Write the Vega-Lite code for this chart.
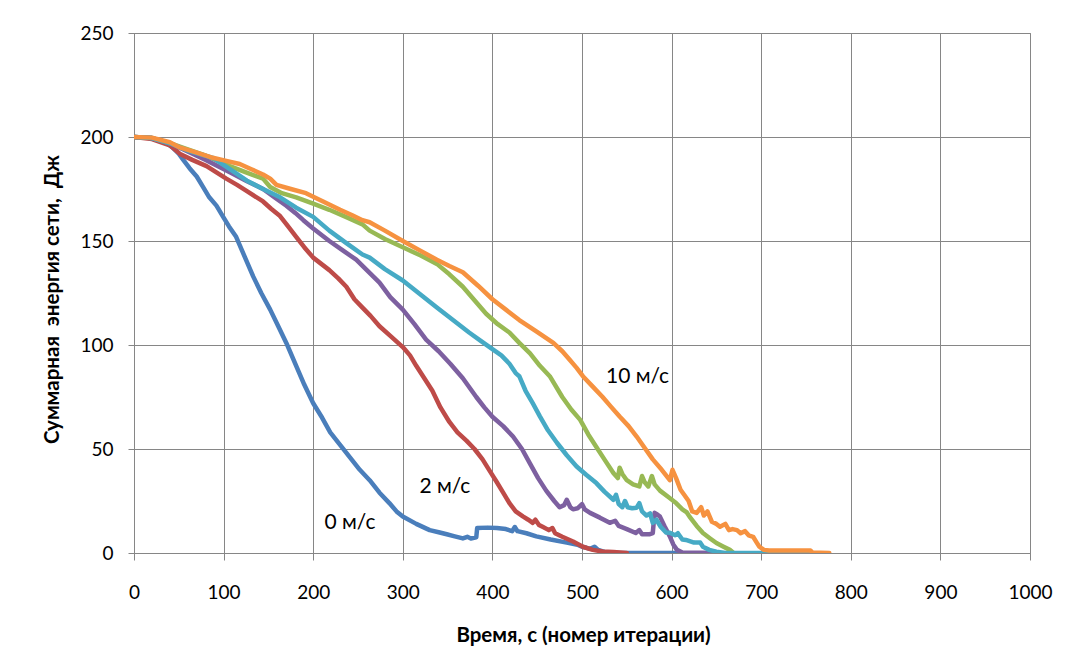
{
  "$schema": "https://vega.github.io/schema/vega-lite/v6.json",
  "autosize": {"type": "none"},
  "width": 896,
  "height": 520,
  "padding": {"left": 134, "top": 33, "right": 43, "bottom": 115},
  "background": "white",
  "config": {
    "font": "Lato",
    "view": {"stroke": "#868686", "strokeWidth": 1},
    "axis": {
      "gridColor": "#868686",
      "gridWidth": 1,
      "gridOpacity": 1,
      "domainColor": "#868686",
      "tickColor": "#868686",
      "labelColor": "#000000",
      "labelFont": "Lato",
      "labelFontSize": 19,
      "titleColor": "#000000",
      "titleFont": "Lato",
      "titleFontWeight": "bold",
      "titleFontSize": 20.5
    }
  },
  "datasets": {
    "curves": [
      {"t": 0, "e": 200, "s": "0 м/с"}, {"t": 20, "e": 199.5, "s": "0 м/с"}, {"t": 35, "e": 197.5, "s": "0 м/с"}, {"t": 43, "e": 195, "s": "0 м/с"}, {"t": 50, "e": 192, "s": "0 м/с"}, {"t": 55, "e": 189, "s": "0 м/с"}, {"t": 62, "e": 185, "s": "0 м/с"}, {"t": 70, "e": 181, "s": "0 м/с"}, {"t": 77, "e": 176, "s": "0 м/с"}, {"t": 84, "e": 171, "s": "0 м/с"}, {"t": 92, "e": 167, "s": "0 м/с"}, {"t": 99, "e": 162, "s": "0 м/с"}, {"t": 106, "e": 157, "s": "0 м/с"}, {"t": 114, "e": 152, "s": "0 м/с"}, {"t": 123, "e": 143, "s": "0 м/с"}, {"t": 133, "e": 133, "s": "0 м/с"}, {"t": 142, "e": 125, "s": "0 м/с"}, {"t": 152, "e": 117, "s": "0 м/с"}, {"t": 161, "e": 109, "s": "0 м/с"}, {"t": 170, "e": 101, "s": "0 м/с"}, {"t": 181, "e": 90, "s": "0 м/с"}, {"t": 190, "e": 81, "s": "0 м/с"}, {"t": 200, "e": 72, "s": "0 м/с"}, {"t": 210, "e": 65, "s": "0 м/с"}, {"t": 219, "e": 58, "s": "0 м/с"}, {"t": 230, "e": 52, "s": "0 м/с"}, {"t": 241, "e": 46, "s": "0 м/с"}, {"t": 252, "e": 40, "s": "0 м/с"}, {"t": 263, "e": 35, "s": "0 м/с"}, {"t": 274, "e": 29, "s": "0 м/с"}, {"t": 285, "e": 24, "s": "0 м/с"}, {"t": 293, "e": 20, "s": "0 м/с"}, {"t": 300, "e": 17.5, "s": "0 м/с"}, {"t": 315, "e": 14, "s": "0 м/с"}, {"t": 330, "e": 11, "s": "0 м/с"}, {"t": 340, "e": 10, "s": "0 м/с"}, {"t": 349, "e": 9, "s": "0 м/с"}, {"t": 358, "e": 8, "s": "0 м/с"}, {"t": 367, "e": 7, "s": "0 м/с"}, {"t": 372, "e": 7.8, "s": "0 м/с"}, {"t": 376, "e": 7, "s": "0 м/с"}, {"t": 382, "e": 7.5, "s": "0 м/с"}, {"t": 383, "e": 12, "s": "0 м/с"}, {"t": 395, "e": 12.2, "s": "0 м/с"}, {"t": 405, "e": 12, "s": "0 м/с"}, {"t": 415, "e": 11.5, "s": "0 м/с"}, {"t": 422, "e": 10.5, "s": "0 м/с"}, {"t": 425, "e": 12.5, "s": "0 м/с"}, {"t": 428, "e": 10.5, "s": "0 м/с"}, {"t": 438, "e": 9.5, "s": "0 м/с"}, {"t": 449, "e": 8, "s": "0 м/с"}, {"t": 465, "e": 6.5, "s": "0 м/с"}, {"t": 483, "e": 5, "s": "0 м/с"}, {"t": 495, "e": 4, "s": "0 м/с"}, {"t": 500, "e": 3, "s": "0 м/с"}, {"t": 505, "e": 2.5, "s": "0 м/с"}, {"t": 509, "e": 2, "s": "0 м/с"}, {"t": 514, "e": 3, "s": "0 м/с"}, {"t": 518, "e": 1.5, "s": "0 м/с"}, {"t": 525, "e": 0.5, "s": "0 м/с"}, {"t": 535, "e": 0, "s": "0 м/с"}, {"t": 606, "e": 0, "s": "0 м/с"},

      {"t": 0, "e": 200, "s": "2 м/с"}, {"t": 20, "e": 199, "s": "2 м/с"}, {"t": 40, "e": 196, "s": "2 м/с"}, {"t": 51, "e": 192, "s": "2 м/с"}, {"t": 65, "e": 189, "s": "2 м/с"}, {"t": 81, "e": 186, "s": "2 м/с"}, {"t": 92, "e": 183, "s": "2 м/с"}, {"t": 103, "e": 180, "s": "2 м/с"}, {"t": 115, "e": 177, "s": "2 м/с"}, {"t": 126, "e": 174, "s": "2 м/с"}, {"t": 135, "e": 171.5, "s": "2 м/с"}, {"t": 144, "e": 169, "s": "2 м/с"}, {"t": 153, "e": 165.5, "s": "2 м/с"}, {"t": 163, "e": 162, "s": "2 м/с"}, {"t": 172, "e": 157, "s": "2 м/с"}, {"t": 181, "e": 152, "s": "2 м/с"}, {"t": 190, "e": 147, "s": "2 м/с"}, {"t": 200, "e": 142, "s": "2 м/с"}, {"t": 209, "e": 139, "s": "2 м/с"}, {"t": 218, "e": 136, "s": "2 м/с"}, {"t": 228, "e": 132, "s": "2 м/с"}, {"t": 237, "e": 128, "s": "2 м/с"}, {"t": 246, "e": 122, "s": "2 м/с"}, {"t": 255, "e": 118, "s": "2 м/с"}, {"t": 264, "e": 114, "s": "2 м/с"}, {"t": 274, "e": 109, "s": "2 м/с"}, {"t": 287, "e": 104, "s": "2 м/с"}, {"t": 300, "e": 99, "s": "2 м/с"}, {"t": 308, "e": 95, "s": "2 м/с"}, {"t": 315, "e": 90, "s": "2 м/с"}, {"t": 324, "e": 84, "s": "2 м/с"}, {"t": 333, "e": 78, "s": "2 м/с"}, {"t": 342, "e": 70, "s": "2 м/с"}, {"t": 352, "e": 63, "s": "2 м/с"}, {"t": 361, "e": 58, "s": "2 м/с"}, {"t": 371, "e": 54, "s": "2 м/с"}, {"t": 380, "e": 50, "s": "2 м/с"}, {"t": 389, "e": 45, "s": "2 м/с"}, {"t": 397, "e": 39.5, "s": "2 м/с"}, {"t": 405, "e": 34, "s": "2 м/с"}, {"t": 412, "e": 29, "s": "2 м/с"}, {"t": 419, "e": 24, "s": "2 м/с"}, {"t": 426, "e": 20, "s": "2 м/с"}, {"t": 434, "e": 17.6, "s": "2 м/с"}, {"t": 440, "e": 16, "s": "2 м/с"}, {"t": 445, "e": 14.5, "s": "2 м/с"}, {"t": 448, "e": 16, "s": "2 м/с"}, {"t": 452, "e": 13.5, "s": "2 м/с"}, {"t": 456, "e": 12.6, "s": "2 м/с"}, {"t": 463, "e": 11, "s": "2 м/с"}, {"t": 467, "e": 12, "s": "2 м/с"}, {"t": 470, "e": 9.5, "s": "2 м/с"}, {"t": 478, "e": 7.8, "s": "2 м/с"}, {"t": 490, "e": 5.5, "s": "2 м/с"}, {"t": 501, "e": 3, "s": "2 м/с"}, {"t": 512, "e": 1.5, "s": "2 м/с"}, {"t": 523, "e": 0.7, "s": "2 м/с"}, {"t": 535, "e": 0.5, "s": "2 м/с"}, {"t": 550, "e": 0, "s": "2 м/с"},

      {"t": 0, "e": 200, "s": "8 м/с"}, {"t": 20, "e": 199.5, "s": "8 м/с"}, {"t": 40, "e": 197, "s": "8 м/с"}, {"t": 60, "e": 194, "s": "8 м/с"}, {"t": 80, "e": 191, "s": "8 м/с"}, {"t": 107, "e": 186, "s": "8 м/с"}, {"t": 125, "e": 183, "s": "8 м/с"}, {"t": 144, "e": 180, "s": "8 м/с"}, {"t": 152, "e": 176, "s": "8 м/с"}, {"t": 165, "e": 173, "s": "8 м/с"}, {"t": 181, "e": 171, "s": "8 м/с"}, {"t": 200, "e": 168, "s": "8 м/с"}, {"t": 218, "e": 165, "s": "8 м/с"}, {"t": 237, "e": 161.5, "s": "8 м/с"}, {"t": 255, "e": 158, "s": "8 м/с"}, {"t": 263, "e": 155, "s": "8 м/с"}, {"t": 280, "e": 151, "s": "8 м/с"}, {"t": 300, "e": 147, "s": "8 м/с"}, {"t": 320, "e": 143, "s": "8 м/с"}, {"t": 338, "e": 139, "s": "8 м/с"}, {"t": 352, "e": 134, "s": "8 м/с"}, {"t": 367, "e": 128, "s": "8 м/с"}, {"t": 380, "e": 121.5, "s": "8 м/с"}, {"t": 393, "e": 115, "s": "8 м/с"}, {"t": 406, "e": 110, "s": "8 м/с"}, {"t": 419, "e": 106, "s": "8 м/с"}, {"t": 430, "e": 101, "s": "8 м/с"}, {"t": 442, "e": 96, "s": "8 м/с"}, {"t": 453, "e": 90, "s": "8 м/с"}, {"t": 464, "e": 85, "s": "8 м/с"}, {"t": 478, "e": 75, "s": "8 м/с"}, {"t": 488, "e": 69, "s": "8 м/с"}, {"t": 498, "e": 64, "s": "8 м/с"}, {"t": 507, "e": 57, "s": "8 м/с"}, {"t": 516, "e": 51, "s": "8 м/с"}, {"t": 525, "e": 45, "s": "8 м/с"}, {"t": 535, "e": 38.5, "s": "8 м/с"}, {"t": 540, "e": 36, "s": "8 м/с"}, {"t": 542, "e": 41, "s": "8 м/с"}, {"t": 545, "e": 38, "s": "8 м/с"}, {"t": 550, "e": 35, "s": "8 м/с"}, {"t": 557, "e": 33, "s": "8 м/с"}, {"t": 564, "e": 32, "s": "8 м/с"}, {"t": 567, "e": 37, "s": "8 м/с"}, {"t": 570, "e": 34, "s": "8 м/с"}, {"t": 574, "e": 32, "s": "8 м/с"}, {"t": 578, "e": 37, "s": "8 м/с"}, {"t": 581, "e": 33, "s": "8 м/с"}, {"t": 587, "e": 30, "s": "8 м/с"}, {"t": 596, "e": 27, "s": "8 м/с"}, {"t": 605, "e": 24, "s": "8 м/с"}, {"t": 612, "e": 21, "s": "8 м/с"}, {"t": 617, "e": 19.5, "s": "8 м/с"}, {"t": 620, "e": 17.5, "s": "8 м/с"}, {"t": 628, "e": 13, "s": "8 м/с"}, {"t": 635, "e": 9.6, "s": "8 м/с"}, {"t": 643, "e": 7, "s": "8 м/с"}, {"t": 650, "e": 4.8, "s": "8 м/с"}, {"t": 658, "e": 3, "s": "8 м/с"}, {"t": 665, "e": 1.5, "s": "8 м/с"}, {"t": 668, "e": 0.5, "s": "8 м/с"},

      {"t": 0, "e": 200, "s": "4 м/с"}, {"t": 20, "e": 199.5, "s": "4 м/с"}, {"t": 40, "e": 197, "s": "4 м/с"}, {"t": 60, "e": 193, "s": "4 м/с"}, {"t": 80, "e": 189, "s": "4 м/с"}, {"t": 107, "e": 183, "s": "4 м/с"}, {"t": 125, "e": 179, "s": "4 м/с"}, {"t": 144, "e": 175, "s": "4 м/с"}, {"t": 157, "e": 171, "s": "4 м/с"}, {"t": 170, "e": 167, "s": "4 м/с"}, {"t": 180, "e": 163.5, "s": "4 м/с"}, {"t": 189, "e": 160, "s": "4 м/с"}, {"t": 200, "e": 156, "s": "4 м/с"}, {"t": 209, "e": 153, "s": "4 м/с"}, {"t": 218, "e": 150, "s": "4 м/с"}, {"t": 233, "e": 145.5, "s": "4 м/с"}, {"t": 248, "e": 141, "s": "4 м/с"}, {"t": 261, "e": 135.5, "s": "4 м/с"}, {"t": 274, "e": 130, "s": "4 м/с"}, {"t": 286, "e": 123, "s": "4 м/с"}, {"t": 300, "e": 117, "s": "4 м/с"}, {"t": 313, "e": 110, "s": "4 м/с"}, {"t": 326, "e": 102.6, "s": "4 м/с"}, {"t": 340, "e": 97, "s": "4 м/с"}, {"t": 353, "e": 91, "s": "4 м/с"}, {"t": 367, "e": 84, "s": "4 м/с"}, {"t": 382, "e": 75, "s": "4 м/с"}, {"t": 391, "e": 70, "s": "4 м/с"}, {"t": 400, "e": 65.5, "s": "4 м/с"}, {"t": 412, "e": 61, "s": "4 м/с"}, {"t": 423, "e": 56, "s": "4 м/с"}, {"t": 433, "e": 50, "s": "4 м/с"}, {"t": 442, "e": 43, "s": "4 м/с"}, {"t": 451, "e": 36, "s": "4 м/с"}, {"t": 460, "e": 30, "s": "4 м/с"}, {"t": 469, "e": 25, "s": "4 м/с"}, {"t": 475, "e": 22, "s": "4 м/с"}, {"t": 480, "e": 23, "s": "4 м/с"}, {"t": 483, "e": 25.6, "s": "4 м/с"}, {"t": 487, "e": 22, "s": "4 м/с"}, {"t": 490, "e": 21, "s": "4 м/с"}, {"t": 495, "e": 21.5, "s": "4 м/с"}, {"t": 500, "e": 23.5, "s": "4 м/с"}, {"t": 503, "e": 21, "s": "4 м/с"}, {"t": 509, "e": 19.3, "s": "4 м/с"}, {"t": 520, "e": 17, "s": "4 м/с"}, {"t": 531, "e": 14.5, "s": "4 м/с"}, {"t": 537, "e": 15.5, "s": "4 м/с"}, {"t": 541, "e": 13, "s": "4 м/с"}, {"t": 550, "e": 11.5, "s": "4 м/с"}, {"t": 560, "e": 9.6, "s": "4 м/с"}, {"t": 564, "e": 11, "s": "4 м/с"}, {"t": 567, "e": 9, "s": "4 м/с"}, {"t": 575, "e": 9, "s": "4 м/с"}, {"t": 579, "e": 9.6, "s": "4 м/с"}, {"t": 581, "e": 19.3, "s": "4 м/с"}, {"t": 584, "e": 18.5, "s": "4 м/с"}, {"t": 587, "e": 17.5, "s": "4 м/с"}, {"t": 592, "e": 13, "s": "4 м/с"}, {"t": 598, "e": 8, "s": "4 м/с"}, {"t": 602, "e": 4, "s": "4 м/с"}, {"t": 606, "e": 1.5, "s": "4 м/с"}, {"t": 612, "e": 0.2, "s": "4 м/с"}, {"t": 654, "e": 0, "s": "4 м/с"},

      {"t": 0, "e": 200, "s": "6 м/с"}, {"t": 20, "e": 199.5, "s": "6 м/с"}, {"t": 40, "e": 197, "s": "6 м/с"}, {"t": 60, "e": 193.5, "s": "6 м/с"}, {"t": 88, "e": 190, "s": "6 м/с"}, {"t": 107, "e": 184.5, "s": "6 м/с"}, {"t": 126, "e": 179, "s": "6 м/с"}, {"t": 144, "e": 175, "s": "6 м/с"}, {"t": 163, "e": 171, "s": "6 м/с"}, {"t": 181, "e": 166, "s": "6 м/с"}, {"t": 200, "e": 161.6, "s": "6 м/с"}, {"t": 218, "e": 155, "s": "6 м/с"}, {"t": 237, "e": 149, "s": "6 м/с"}, {"t": 255, "e": 143.5, "s": "6 м/с"}, {"t": 263, "e": 142, "s": "6 м/с"}, {"t": 280, "e": 136.5, "s": "6 м/с"}, {"t": 300, "e": 131, "s": "6 м/с"}, {"t": 319, "e": 124.5, "s": "6 м/с"}, {"t": 338, "e": 118, "s": "6 м/с"}, {"t": 356, "e": 112, "s": "6 м/с"}, {"t": 374, "e": 106, "s": "6 м/с"}, {"t": 387, "e": 102, "s": "6 м/с"}, {"t": 400, "e": 98, "s": "6 м/с"}, {"t": 410, "e": 95, "s": "6 м/с"}, {"t": 419, "e": 91, "s": "6 м/с"}, {"t": 426, "e": 86.5, "s": "6 м/с"}, {"t": 430, "e": 85, "s": "6 м/с"}, {"t": 437, "e": 78, "s": "6 м/с"}, {"t": 445, "e": 72, "s": "6 м/с"}, {"t": 453, "e": 65.7, "s": "6 м/с"}, {"t": 462, "e": 59, "s": "6 м/с"}, {"t": 472, "e": 53, "s": "6 м/с"}, {"t": 483, "e": 47, "s": "6 м/с"}, {"t": 494, "e": 41.6, "s": "6 м/с"}, {"t": 505, "e": 37.5, "s": "6 м/с"}, {"t": 516, "e": 33.6, "s": "6 м/с"}, {"t": 525, "e": 29.5, "s": "6 м/с"}, {"t": 535, "e": 25.6, "s": "6 м/с"}, {"t": 538, "e": 28, "s": "6 м/с"}, {"t": 541, "e": 23.5, "s": "6 м/с"}, {"t": 545, "e": 22, "s": "6 м/с"}, {"t": 548, "e": 25, "s": "6 м/с"}, {"t": 551, "e": 22, "s": "6 м/с"}, {"t": 556, "e": 21.5, "s": "6 м/с"}, {"t": 561, "e": 21.8, "s": "6 м/с"}, {"t": 564, "e": 24, "s": "6 м/с"}, {"t": 567, "e": 20, "s": "6 м/с"}, {"t": 572, "e": 18, "s": "6 м/с"}, {"t": 576, "e": 19, "s": "6 м/с"}, {"t": 579, "e": 14.5, "s": "6 м/с"}, {"t": 583, "e": 16, "s": "6 м/с"}, {"t": 588, "e": 12.5, "s": "6 м/с"}, {"t": 594, "e": 9.8, "s": "6 м/с"}, {"t": 598, "e": 9.7, "s": "6 м/с"}, {"t": 604, "e": 8.5, "s": "6 м/с"}, {"t": 607, "e": 9.5, "s": "6 м/с"}, {"t": 612, "e": 6.5, "s": "6 м/с"}, {"t": 616, "e": 6.3, "s": "6 м/с"}, {"t": 625, "e": 5, "s": "6 м/с"}, {"t": 632, "e": 5, "s": "6 м/с"}, {"t": 635, "e": 3, "s": "6 м/с"}, {"t": 642, "e": 1.5, "s": "6 м/с"}, {"t": 650, "e": 0.6, "s": "6 м/с"}, {"t": 660, "e": 0, "s": "6 м/с"}, {"t": 754, "e": 0, "s": "6 м/с"},

      {"t": 0, "e": 200, "s": "10 м/с"}, {"t": 20, "e": 199.7, "s": "10 м/с"}, {"t": 40, "e": 197.5, "s": "10 м/с"}, {"t": 51, "e": 195, "s": "10 м/с"}, {"t": 70, "e": 192.5, "s": "10 м/с"}, {"t": 88, "e": 190, "s": "10 м/с"}, {"t": 103, "e": 188.5, "s": "10 м/с"}, {"t": 118, "e": 187, "s": "10 м/с"}, {"t": 131, "e": 184.5, "s": "10 м/с"}, {"t": 144, "e": 182, "s": "10 м/с"}, {"t": 152, "e": 180, "s": "10 м/с"}, {"t": 159, "e": 177, "s": "10 м/с"}, {"t": 175, "e": 175, "s": "10 м/с"}, {"t": 192, "e": 173, "s": "10 м/с"}, {"t": 211, "e": 169, "s": "10 м/с"}, {"t": 230, "e": 165, "s": "10 м/с"}, {"t": 243, "e": 162.5, "s": "10 м/с"}, {"t": 255, "e": 160, "s": "10 м/с"}, {"t": 263, "e": 159, "s": "10 м/с"}, {"t": 280, "e": 155, "s": "10 м/с"}, {"t": 300, "e": 150, "s": "10 м/с"}, {"t": 319, "e": 145.5, "s": "10 м/с"}, {"t": 338, "e": 141, "s": "10 м/с"}, {"t": 352, "e": 138, "s": "10 м/с"}, {"t": 367, "e": 135, "s": "10 м/с"}, {"t": 384, "e": 128.5, "s": "10 м/с"}, {"t": 400, "e": 122, "s": "10 м/с"}, {"t": 415, "e": 117, "s": "10 м/с"}, {"t": 430, "e": 112, "s": "10 м/с"}, {"t": 449, "e": 106.5, "s": "10 м/с"}, {"t": 468, "e": 101, "s": "10 м/с"}, {"t": 478, "e": 97, "s": "10 м/с"}, {"t": 486, "e": 93, "s": "10 м/с"}, {"t": 494, "e": 89, "s": "10 м/с"}, {"t": 501, "e": 85, "s": "10 м/с"}, {"t": 512, "e": 80, "s": "10 м/с"}, {"t": 523, "e": 75, "s": "10 м/с"}, {"t": 532, "e": 70.5, "s": "10 м/с"}, {"t": 542, "e": 65.6, "s": "10 м/с"}, {"t": 552, "e": 61, "s": "10 м/с"}, {"t": 561, "e": 56, "s": "10 м/с"}, {"t": 570, "e": 50.5, "s": "10 м/с"}, {"t": 579, "e": 45, "s": "10 м/с"}, {"t": 589, "e": 40, "s": "10 м/с"}, {"t": 598, "e": 35, "s": "10 м/с"}, {"t": 601, "e": 40, "s": "10 м/с"}, {"t": 605, "e": 36, "s": "10 м/с"}, {"t": 610, "e": 30.4, "s": "10 м/с"}, {"t": 619, "e": 25, "s": "10 м/с"}, {"t": 623, "e": 20, "s": "10 м/с"}, {"t": 628, "e": 19.3, "s": "10 м/с"}, {"t": 633, "e": 22, "s": "10 м/с"}, {"t": 636, "e": 18, "s": "10 м/с"}, {"t": 640, "e": 20, "s": "10 м/с"}, {"t": 645, "e": 15, "s": "10 м/с"}, {"t": 650, "e": 14, "s": "10 м/с"}, {"t": 654, "e": 12.6, "s": "10 м/с"}, {"t": 660, "e": 14, "s": "10 м/с"}, {"t": 664, "e": 11, "s": "10 м/с"}, {"t": 668, "e": 11.5, "s": "10 м/с"}, {"t": 673, "e": 11, "s": "10 м/с"}, {"t": 677, "e": 9.5, "s": "10 м/с"}, {"t": 682, "e": 10.5, "s": "10 м/с"}, {"t": 686, "e": 8.5, "s": "10 м/с"}, {"t": 691, "e": 7.8, "s": "10 м/с"}, {"t": 695, "e": 5, "s": "10 м/с"}, {"t": 698, "e": 3, "s": "10 м/с"}, {"t": 703, "e": 1.5, "s": "10 м/с"}, {"t": 709, "e": 1.2, "s": "10 м/с"}, {"t": 755, "e": 1.2, "s": "10 м/с"}, {"t": 757, "e": 0.3, "s": "10 м/с"}, {"t": 776, "e": 0, "s": "10 м/с"}
    ],
    "labels": [
      {"t": 562, "e": 84.7, "label": "10 м/с"},
      {"t": 347, "e": 31.5, "label": "2 м/с"},
      {"t": 241, "e": 14.6, "label": "0 м/с"}
    ]
  },
  "layer": [
    {
      "data": {"name": "curves"},
      "mark": {"type": "line", "strokeWidth": 4.5, "strokeJoin": "round", "strokeCap": "round", "clip": true},
      "encoding": {
        "x": {
          "field": "t", "type": "quantitative",
          "scale": {"domain": [0, 1000], "nice": false},
          "axis": {
            "values": [0, 100, 200, 300, 400, 500, 600, 700, 800, 900, 1000],
            "format": "d",
            "title": "Время, с (номер итерации)",
            "tickSize": 7,
            "labelPadding": 23,
            "labelFlush": false,
            "titleX": 449,
            "titleY": 82,
            "titleBaseline": "middle",
            "titleAnchor": "middle"
          }
        },
        "y": {
          "field": "e", "type": "quantitative",
          "scale": {"domain": [0, 250], "nice": false},
          "axis": {
            "values": [0, 50, 100, 150, 200, 250],
            "format": "d",
            "title": "Суммарная\u00a0 энергия сети,\u00a0 Дж",
            "tickSize": 6,
            "labelPadding": 15,
            "labelFlush": false,
            "titleAngle": -90,
            "titleX": -82,
            "titleY": 266,
            "titleBaseline": "middle",
            "titleAlign": "center"
          }
        },
        "color": {
          "field": "s", "type": "nominal",
          "scale": {
            "domain": ["0 м/с", "2 м/с", "8 м/с", "4 м/с", "6 м/с", "10 м/с"],
            "range": ["#4A7EBB", "#BE4B48", "#98B954", "#7D60A0", "#46AAC5", "#F69240"]
          },
          "legend": null
        }
      }
    },
    {
      "data": {"name": "labels"},
      "mark": {"type": "text", "font": "Lato", "fontSize": 21, "color": "#000000", "align": "center", "baseline": "middle"},
      "encoding": {
        "x": {"field": "t", "type": "quantitative"},
        "y": {"field": "e", "type": "quantitative"},
        "text": {"field": "label"}
      }
    }
  ]
}
